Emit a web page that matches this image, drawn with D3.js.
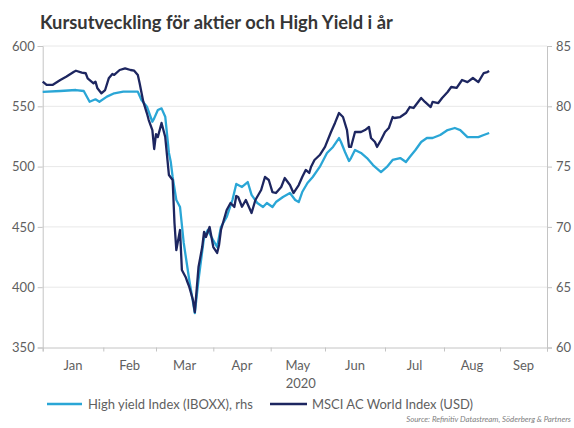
<!DOCTYPE html>
<html><head><meta charset="utf-8">
<script src="https://cdn.jsdelivr.net/npm/d3@7"></script>
<style>
body{margin:0;background:#fff;}
svg{display:block;font-family:Lato,"Open Sans",sans-serif;}
</style>
</head><body>
<svg id="chart" width="574" height="428"></svg>
<script>
const titleText = "Kursutveckling för aktier och High Yield i år";
const monthLabels = ["Jan","Feb","Mar","Apr","May","Jun","Jul","Aug","Sep"];
const monthStarts = ["2020-01-01","2020-02-01","2020-03-01","2020-04-01","2020-05-01","2020-06-01","2020-07-01","2020-08-01","2020-09-01","2020-10-01"];
const yearLabel = "2020";
const leftTicks = [350,400,450,500,550,600];
const rightTicks = [60,65,70,75,80,85];
const legendLabels = ["High yield Index (IBOXX), rhs","MSCI AC World Index (USD)"];
const sourceText = "Source: Refinitiv Datastream, Söderberg & Partners";

const msciDates = ["2020-01-01","2020-01-03","2020-01-06","2020-01-10","2020-01-13","2020-01-17","2020-01-18","2020-01-21","2020-01-23","2020-01-24","2020-01-27","2020-01-28","2020-01-29","2020-01-31",
"2020-02-02","2020-02-04","2020-02-06","2020-02-07","2020-02-10","2020-02-13","2020-02-16","2020-02-18","2020-02-20","2020-02-21","2020-02-23","2020-02-25","2020-02-26","2020-02-28","2020-02-29",
"2020-03-01","2020-03-02","2020-03-04","2020-03-06","2020-03-08","2020-03-10","2020-03-11","2020-03-12","2020-03-14","2020-03-15","2020-03-17","2020-03-18","2020-03-19","2020-03-21","2020-03-22","2020-03-24","2020-03-26","2020-03-27","2020-03-28","2020-03-30",
"2020-04-01","2020-04-03","2020-04-04","2020-04-05","2020-04-08","2020-04-10","2020-04-12","2020-04-13","2020-04-14","2020-04-16","2020-04-18","2020-04-21","2020-04-23","2020-04-26","2020-04-28","2020-04-30",
"2020-05-02","2020-05-04","2020-05-07","2020-05-09","2020-05-12","2020-05-14","2020-05-17","2020-05-19","2020-05-21","2020-05-23","2020-05-24","2020-05-26","2020-05-29",
"2020-06-01","2020-06-04","2020-06-06","2020-06-08","2020-06-10","2020-06-12","2020-06-13","2020-06-14","2020-06-16","2020-06-19","2020-06-21","2020-06-23","2020-06-24","2020-06-26","2020-06-27","2020-06-29",
"2020-07-01","2020-07-03","2020-07-05","2020-07-06","2020-07-09","2020-07-12","2020-07-14","2020-07-16","2020-07-18","2020-07-20","2020-07-22","2020-07-25","2020-07-26","2020-07-29","2020-07-31",
"2020-08-03","2020-08-05","2020-08-08","2020-08-11","2020-08-14","2020-08-17","2020-08-20","2020-08-23","2020-08-25","2020-08-26"];
const msciValues = [570.4,567.7,567.7,571.8,574.5,578.7,579.5,577.9,577.4,573.2,569.1,570.4,564.9,560.8,
563.5,573.2,576.8,576.0,580.1,581.5,580.1,579.5,576.0,569.1,553.8,544.2,538.6,530.3,514.6,
527.0,524.5,536.2,524.5,493.0,488.9,453.2,430.8,447.4,414.3,408.5,404.3,400.2,389.4,379.4,416.7,433.3,445.8,441.6,449.9,
433.3,428.4,435.0,447.4,464.0,469.8,466.5,475.6,474.8,466.7,472.3,461.5,472.3,480.6,491.4,488.9,
478.9,478.1,483.1,490.5,484.7,478.1,484.7,491.4,497.2,494.7,499.7,505.5,509.6,
516.3,528.7,536.2,544.4,541.1,530.3,516.3,516.3,528.7,528.7,530.3,532.8,523.7,520.4,516.3,522.1,
528.7,532.0,541.1,540.3,541.1,544.4,549.4,548.6,552.7,556.9,553.6,549.4,553.6,552.7,556.9,
561.9,566.0,565.2,571.8,570.1,573.5,570.1,577.6,578.4,579.3];

const hyDates = ["2020-01-01","2020-01-10","2020-01-18","2020-01-22","2020-01-25","2020-01-28","2020-01-30",
"2020-02-03","2020-02-07","2020-02-12","2020-02-20","2020-02-22","2020-02-25","2020-02-28","2020-02-29",
"2020-03-02","2020-03-04","2020-03-06","2020-03-08","2020-03-09","2020-03-10","2020-03-12","2020-03-14","2020-03-16","2020-03-19","2020-03-22","2020-03-24","2020-03-27","2020-03-29","2020-03-31",
"2020-04-03","2020-04-05","2020-04-08","2020-04-11","2020-04-13","2020-04-16","2020-04-19","2020-04-21","2020-04-24","2020-04-27","2020-04-29",
"2020-05-02","2020-05-04","2020-05-08","2020-05-12","2020-05-15","2020-05-17","2020-05-19","2020-05-22","2020-05-25","2020-05-29",
"2020-06-02","2020-06-05","2020-06-08","2020-06-09","2020-06-11","2020-06-13","2020-06-14","2020-06-16","2020-06-19","2020-06-22","2020-06-25","2020-06-29",
"2020-07-02","2020-07-05","2020-07-09","2020-07-12","2020-07-14","2020-07-17","2020-07-20","2020-07-23","2020-07-26","2020-07-30",
"2020-08-03","2020-08-07","2020-08-10","2020-08-14","2020-08-17","2020-08-20","2020-08-23","2020-08-26"];
const hyValues = [81.19,81.27,81.35,81.27,80.38,80.58,80.38,
80.80,81.08,81.21,81.21,80.52,79.97,78.72,79.00,
79.69,79.83,79.14,76.13,75.38,74.14,72.23,71.65,68.67,65.60,62.86,65.60,69.16,69.74,69.16,
68.33,69.99,70.82,72.23,73.56,73.31,73.72,72.65,71.98,71.65,71.98,
71.65,72.06,72.48,72.81,72.23,72.06,72.89,73.64,74.14,74.97,
76.13,76.63,77.37,77.04,76.21,75.46,75.71,76.38,76.13,75.71,75.13,74.55,
74.97,75.55,75.71,75.38,75.80,76.38,77.04,77.37,77.37,77.62,
78.03,78.20,78.03,77.45,77.45,77.45,77.62,77.79];

const parse = d3.timeParse("%Y-%m-%d");
const svg = d3.select("#chart");
const colDark = "#1d2660", colLight = "#2aa6d6", axisCol = "#c4c4c4", gridCol = "#e8e8e8", textCol = "#5f5f5f";

const L = 42.7, R = 547, T = 46, B = 347.5;
const x = d3.scaleTime().domain(monthStarts.map(parse))
  .range([L,103.3,156,213.3,270.7,325,385,444,500,R]);
const yL = d3.scaleLinear().domain([350,600]).range([B,T]);
const yR = d3.scaleLinear().domain([60,85]).range([B,T]);

// title
const title = svg.append("text").attr("x",40).attr("y",29)
  .attr("font-weight","bold").attr("font-size",18).attr("fill","#363636")
  .text(titleText);
const tw = title.node().getComputedTextLength();
title.attr("font-size", 18*353/tw);

// gridlines
svg.append("g").selectAll("line").data(leftTicks.slice(1)).join("line")
  .attr("x1",L).attr("x2",R).attr("y1",d=>yL(d)).attr("y2",d=>yL(d))
  .attr("stroke",gridCol).attr("stroke-width",1);

// left axis
const gL = svg.append("g").attr("transform",`translate(${L},0)`)
  .call(d3.axisLeft(yL).tickValues(leftTicks).tickSize(5).tickPadding(3));
// right axis
const gR = svg.append("g").attr("transform",`translate(${R},0)`)
  .call(d3.axisRight(yR).tickValues(rightTicks).tickSize(5).tickPadding(4));
// bottom axis
const gB = svg.append("g").attr("transform",`translate(0,${B})`)
  .call(d3.axisBottom(x).tickValues(monthStarts.map(parse)).tickSize(4).tickFormat(""));
[gL,gR,gB].forEach(g=>{
  g.select(".domain").attr("stroke",axisCol).attr("stroke-width",1);
  g.selectAll(".tick line").attr("stroke",axisCol);
  g.selectAll(".tick text").attr("fill",textCol).attr("font-size",13).attr("font-family","Lato");
});

// month labels centred
const ms = monthStarts.map(parse);
svg.append("g").selectAll("text").data(monthLabels).join("text")
  .attr("x",(d,i)=>(x(ms[i])+x(ms[i+1]))/2).attr("y",370)
  .attr("text-anchor","middle").attr("font-size",13).attr("fill",textCol).text(d=>d);
svg.append("text").attr("x",(x(ms[4])+x(ms[5]))/2+3).attr("y",388)
  .attr("text-anchor","middle").attr("font-size",13).attr("fill",textCol).text(yearLabel);

// lines
const lineHY = d3.line().x((d,i)=>x(parse(hyDates[i]))).y(d=>yR(d));
const lineM = d3.line().x((d,i)=>x(parse(msciDates[i]))).y(d=>yL(d));
svg.append("path").datum(hyValues).attr("d",lineHY).attr("fill","none")
  .attr("stroke",colLight).attr("stroke-width",2.3).attr("stroke-linejoin","round");
svg.append("path").datum(msciValues).attr("d",lineM).attr("fill","none")
  .attr("stroke",colDark).attr("stroke-width",2.3).attr("stroke-linejoin","round");

// legend
const leg = svg.append("g");
[[47,82,88,colLight],[270,307,312,colDark]].forEach((p,i)=>{
  leg.append("line").attr("x1",p[0]).attr("x2",p[1]).attr("y1",404).attr("y2",404)
    .attr("stroke",p[3]).attr("stroke-width",2.5);
  leg.append("text").attr("x",p[2]).attr("y",408.5).attr("font-size",13).attr("fill",textCol).text(legendLabels[i]);
});

// source
const src = svg.append("text").attr("x",571).attr("y",422).attr("text-anchor","end")
  .attr("font-size",9.5).attr("font-style","italic").attr("fill","#808080").text(sourceText);
const sw = src.node().getComputedTextLength();
src.attr("font-size", 9.5*165/sw);
</script>
</body></html>
